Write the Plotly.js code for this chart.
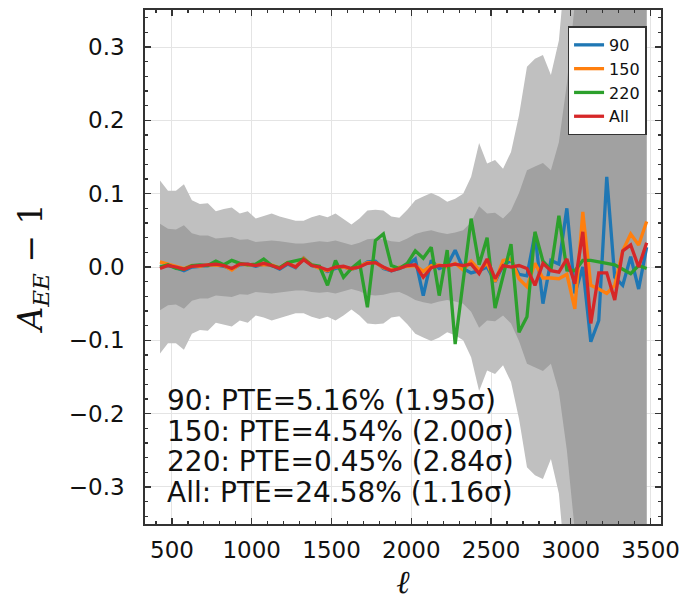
<!DOCTYPE html>
<html>
<head>
<meta charset="utf-8">
<script src="https://cdn.plot.ly/plotly-3.0.1.min.js"></script>
<style>
  html, body { margin: 0; padding: 0; background: #ffffff; }
  #chart { width: 683px; height: 602px; }
</style>
</head>
<body>
<div id="chart"></div>
<script>
// ---- data ----
const ell = [425,475,525,575,625,675,725,775,825,875,925,975,
             1025,1075,1125,1175,1225,1275,1325,1375,1425,1475,1525,1575,
             1625,1675,1725,1775,1825,1875,1925,1975,2025,2075,2125,2175,
             2225,2275,2325,2375,2425,2475,2525,2575,2625,2675,2725,2775,
             2825,2875,2925,2975,3025,3075,3125,3175,3225,3275,3325,3375,
             3425,3475];

// 2-sigma half-width (outer light band)
const sigma2 = [0.118,0.104,0.104,0.113,0.091,0.086,0.087,0.076,0.079,0.081,0.073,0.076,
                0.066,0.069,0.073,0.069,0.066,0.063,0.063,0.068,0.071,0.068,0.073,0.066,
                0.058,0.066,0.077,0.078,0.077,0.069,0.067,0.078,0.091,0.096,0.101,0.096,
                0.089,0.093,0.100,0.123,0.169,0.141,0.146,0.134,0.157,0.207,0.273,0.284,
                0.289,0.262,0.309,0.43,0.62,0.70,0.78,0.85,0.92,1.0,1.1,1.2,
                1.3,1.4];
// 1-sigma half-width (inner dark band)
const sigma1 = [0.059,0.052,0.051,0.057,0.046,0.043,0.043,0.039,0.040,0.041,0.037,0.038,
                0.034,0.035,0.036,0.035,0.033,0.032,0.032,0.034,0.035,0.034,0.036,0.033,
                0.030,0.033,0.038,0.039,0.038,0.035,0.034,0.039,0.045,0.048,0.050,0.047,
                0.045,0.047,0.050,0.061,0.083,0.073,0.074,0.066,0.077,0.101,0.132,0.137,
                0.142,0.132,0.17,0.25,0.36,0.40,0.45,0.48,0.52,0.56,0.60,0.65,
                0.70,0.75];

const a90  = [0.000,0.002,-0.001,-0.005,0.000,0.001,0.002,0.003,0.001,-0.003,0.003,0.004,
              0.001,0.004,0.002,-0.003,0.004,-0.001,0.012,0.002,-0.001,-0.006,-0.002,0.000,
              -0.003,0.000,0.007,0.008,-0.002,-0.005,-0.002,0.002,0.011,-0.039,0.009,-0.002,
              0.002,0.023,-0.002,-0.008,-0.005,0.000,-0.020,0.002,0.009,-0.010,-0.012,0.045,
              -0.050,0.009,0.004,0.080,-0.036,0.000,-0.102,-0.073,0.123,-0.014,-0.025,0.014,
              -0.030,0.027];
const a150 = [0.007,0.004,0.000,-0.002,0.002,0.001,0.003,0.003,0.002,-0.004,0.004,0.003,
              0.003,0.004,0.003,-0.001,0.006,0.000,0.012,0.003,-0.002,-0.005,0.000,0.000,
              -0.003,0.001,0.006,0.006,-0.001,-0.004,0.000,0.001,0.002,-0.006,0.002,0.003,
              0.000,0.005,-0.004,0.008,-0.004,0.005,-0.020,0.009,0.011,-0.016,-0.027,0.005,
              -0.015,-0.015,-0.016,-0.010,-0.057,0.075,-0.025,-0.030,-0.036,-0.025,0.022,0.045,
              0.030,0.062];
const a220 = [0.000,0.003,-0.002,-0.003,0.002,0.003,0.002,0.008,0.003,0.009,0.005,0.003,
              0.004,0.011,0.002,-0.001,0.006,0.008,0.011,0.003,0.001,-0.025,0.009,-0.014,
              -0.002,0.007,-0.055,0.036,0.045,0.002,-0.002,0.005,0.022,0.012,0.027,-0.039,
              0.023,-0.105,-0.019,0.066,0.003,0.040,-0.056,-0.012,0.031,-0.089,-0.068,0.048,
              0.008,-0.004,0.070,-0.004,-0.005,0.009,0.009,0.007,0.005,0.003,-0.003,-0.009,
              0.002,-0.002];
const aAll = [-0.002,0.002,0.000,-0.003,0.001,0.002,0.002,0.004,0.002,-0.002,0.004,0.004,
              0.002,0.005,0.002,-0.002,0.005,0.000,0.010,0.002,0.000,-0.004,0.000,0.001,
              -0.002,0.000,0.005,0.006,0.000,-0.005,-0.002,0.002,0.003,-0.014,-0.001,0.002,
              0.002,0.004,0.002,0.004,-0.009,0.011,-0.016,0.002,0.000,0.002,-0.002,-0.025,
              0.005,-0.005,-0.007,0.011,-0.023,0.048,-0.077,-0.008,-0.008,-0.045,0.022,0.030,
              0.000,0.033];

const seriesNames  = ['90', '150', '220', 'All'];
const seriesColors = ['#1f77b4', '#ff7f0e', '#2ca02c', '#d62728'];
const seriesValues = [a90, a150, a220, aAll];
const ptePercent   = [5.16, 4.54, 0.45, 24.58];
const pteSigma     = [1.95, 2.00, 2.84, 1.16];

// ---- traces ----
function band(sig, color) {
  const xs = ell.concat(ell.slice().reverse());
  const ys = sig.concat(sig.slice().reverse().map(v => -v));
  return { x: xs, y: ys, type: 'scatter', mode: 'lines', fill: 'toself',
           fillcolor: color, line: { width: 0 }, showlegend: false, hoverinfo: 'skip' };
}
const traces = [band(sigma2, '#c0c0c0'), band(sigma1, '#a1a1a1')];
seriesNames.forEach((n, i) => {
  traces.push({ x: ell, y: seriesValues[i], type: 'scatter', mode: 'lines', name: n,
                line: { color: seriesColors[i], width: 3.3 } });
});

// ---- annotations ----
const annotations = seriesNames.map((n, i) => ({
  xref: 'paper', yref: 'paper', x: 0.039, y: 0.2405 - i * 0.0597,
  xanchor: 'left', yanchor: 'middle', showarrow: false,
  text: n + ': PTE=' + ptePercent[i].toFixed(2) + '% (' + pteSigma[i].toFixed(2) + 'σ)',
  font: { family: 'DejaVu Sans', size: 28, color: '#111111' }
}));

const axisCommon = {
  ticks: 'inside', ticklen: 6, tickwidth: 1.2, tickcolor: '#333333',
  showline: true, linecolor: '#333333', linewidth: 1.8, mirror: 'allticks',
  showgrid: true, gridcolor: '#e4e4e4', gridwidth: 1, zeroline: false,
  automargin: false,
  tickfont: { family: 'DejaVu Sans', size: 23, color: '#111111' }
};

const layout = {
  width: 683, height: 602,
  margin: { l: 145, r: 22, t: 10, b: 78 },
  paper_bgcolor: '#ffffff', plot_bgcolor: '#ffffff',
  showlegend: true,
  legend: { x: 0.972, xanchor: 'right', y: 0.968, yanchor: 'top',
            bgcolor: '#ffffff', bordercolor: '#333333', borderwidth: 1.5,
            font: { family: 'DejaVu Sans', size: 16, color: '#111111' },
            tracegroupgap: 0 },
  xaxis: Object.assign({}, axisCommon, {
    range: [331, 3565], tick0: 0, dtick: 500, ticklabelstandoff: 5,
    minor: { tick0: 0, dtick: 100, ticks: 'inside', ticklen: 3, tickcolor: '#333333', showgrid: false },
    title: { text: '<i>ℓ</i>', font: { family: 'DejaVu Serif', size: 32, color: '#111111' }, standoff: 7 }
  }),
  yaxis: Object.assign({}, axisCommon, {
    range: [-0.3505, 0.3505], tick0: 0, dtick: 0.1, tickformat: '.1f', ticklabelstandoff: 14,
    minor: { tick0: 0, dtick: 0.02, ticks: 'inside', ticklen: 3, tickcolor: '#333333', showgrid: false },
    title: { text: '<i>A</i><sub><i>EE</i></sub> − 1', font: { family: 'DejaVu Serif', size: 33, color: '#111111' }, standoff: 16 }
  }),
  annotations: annotations
};

Plotly.newPlot('chart', traces, layout, { staticPlot: true, displayModeBar: false });
</script>
</body>
</html>
